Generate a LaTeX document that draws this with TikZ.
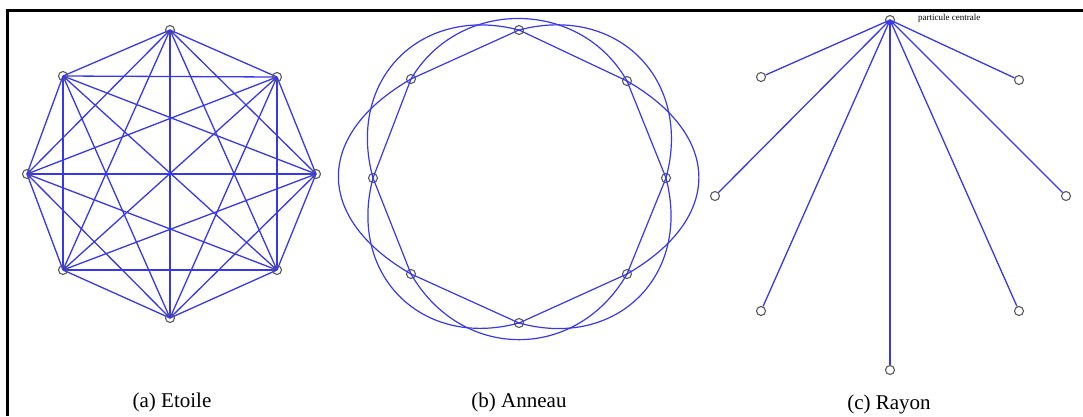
\documentclass[tikz,border=0pt]{standalone}
\usepackage{fontspec}
\setmainfont{Liberation Serif}
\definecolor{edgeblue}{RGB}{55,55,235}
\definecolor{ptgray}{RGB}{90,90,90}
\begin{document}
\begin{tikzpicture}[x=1pt,y=-1pt,
  pt/.style={circle,draw=ptgray,line width=1.1pt,inner sep=0pt,minimum size=9pt},
  edge/.style={draw=edgeblue,line width=1.3pt},
  ring/.style={draw=edgeblue,line width=1.2pt},
  caption/.style={font=\fontsize{21}{24}\selectfont,inner sep=0pt},
  frameline/.style={draw=black,line width=3pt}]
\useasboundingbox (0,0) rectangle (1083,416);
% frame (top and left only)
\coordinate (fTR) at (1083,10);
\coordinate (fTL) at (7,10);
\coordinate (fBL) at (7,416);
\draw[frameline] (fTR) -- (fTL) -- (fBL);
% ---------- (a) Etoile ----------
\coordinate (a1) at (170,30);
\coordinate (a2) at (277,77);
\coordinate (a3) at (316,174);
\coordinate (a4) at (277,270);
\coordinate (a5) at (170,318);
\coordinate (a6) at (63,270);
\coordinate (a7) at (27,174);
\coordinate (a8) at (63,76);
\foreach \i in {1,...,8}{
  \pgfmathtruncatemacro{\s}{\i+1}
  \ifnum\i<8
  \foreach \j in {\s,...,8}{\draw[edge] (a\i) -- (a\j);}
  \fi
}
\foreach \i in {1,...,8}{\node[pt] (na\i) at (a\i) {};}
% ---------- (b) Anneau ----------
\node[pt] (b1) at (519,30) {};
\node[pt] (b2) at (627,81) {};
\node[pt] (b3) at (666,178) {};
\node[pt] (b4) at (627,274) {};
\node[pt] (b5) at (519,323) {};
\node[pt] (b6) at (411,274) {};
\node[pt] (b7) at (373,178) {};
\node[pt] (b8) at (411,79) {};
\foreach \i/\j in {1/2,2/3,3/4,4/5,5/6,6/7,7/8,8/1}{
  \draw[ring] (b\i.center) -- (b\j.center);
}
% arcs between diagonal nodes (vertical chords bulge most)
\foreach \i/\j/\l in {2/4/1.47,6/8/1.47,8/2/1.12,4/6/1.2}{
  \draw[ring] (b\i.center) to[bend left=60,looseness=\l] (b\j.center);
}
% arcs between axis nodes
\foreach \i/\j in {1/3,3/5,5/7,7/1}{
  \draw[ring] (b\i.center) to[bend left=60,looseness=1.25] (b\j.center);
}
% ---------- (c) Rayon ----------
\node[pt] (c0) at (890,20) {};
\node[pt] (c1) at (761,77) {};
\node[pt] (c2) at (715,196) {};
\node[pt] (c3) at (761,311) {};
\node[pt] (c4) at (890,370) {};
\node[pt] (c5) at (1019,311) {};
\node[pt] (c6) at (1066,196) {};
\node[pt] (c7) at (1019,80) {};
\foreach \k in {1,...,7}{\draw[edge] (c0.center) -- (c\k);}
\node[font=\fontsize{9}{10}\selectfont,anchor=west,inner sep=0pt] (lbl) at (918,18) {particule centrale};
% captions
\node[caption] (capa) at (172,402) {(a) Etoile};
\node[caption] (capb) at (519,402) {(b) Anneau};
\node[caption] (capc) at (889,404) {(c) Rayon};
\end{tikzpicture}
\end{document}
